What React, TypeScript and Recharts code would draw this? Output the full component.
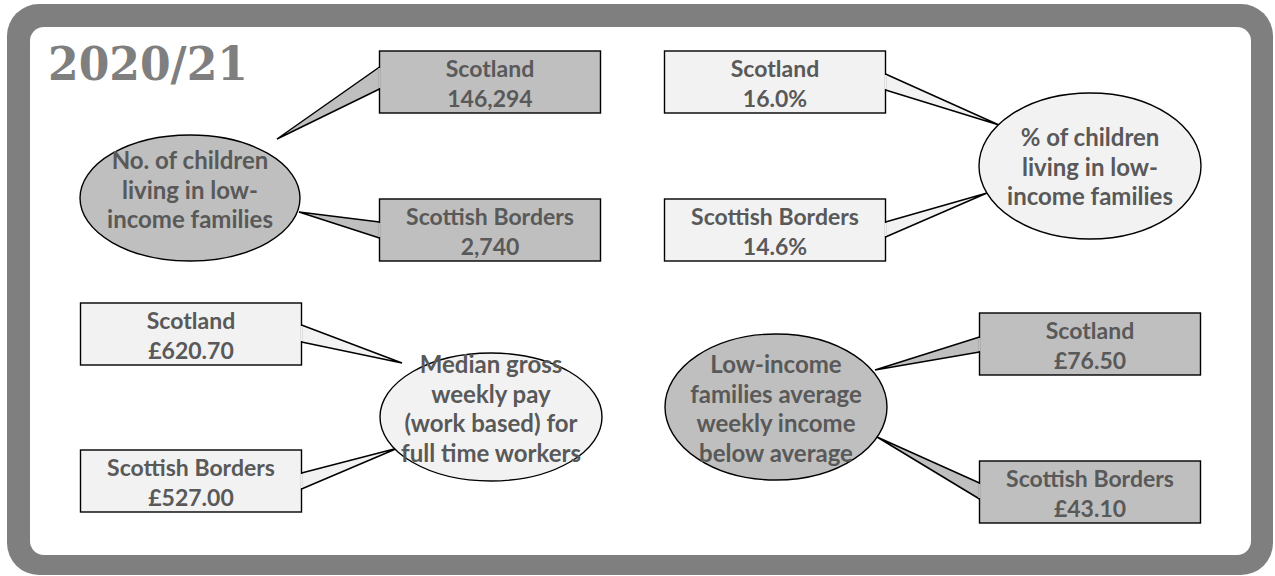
import React from "react";
import { ComposedChart, XAxis, YAxis, Scatter } from "recharts";

// ---- data ----
const period = "2020/21";
const regions = ["Scotland", "Scottish Borders"];
const measureLabels = [
  ["No. of children", "living in low-", "income families"],
  ["% of children", "living in low-", "income families"],
  ["Median gross", "weekly pay", "(work based) for", "full time workers"],
  ["Low-income", "families average", "weekly income", "below average"],
];
const scotlandValues = ["146,294", "16.0%", "£620.70", "£76.50"];
const bordersValues = ["2,740", "14.6%", "£527.00", "£43.10"];

// ---- layout (chart units = pixels, axes are hidden) ----
const W = 1275;
const H = 576;
const DARK = "#bfbfbf";
const LIGHT = "#f2f2f2";
const TEXT = "#595959";
const FONT = "Lato, 'Open Sans', sans-serif";
const BOX_W = 221;
const BOX_H = 62;

type BoxLayout = { x: number; y: number; side: "left" | "right"; base: [number, number]; tip: [number, number] };
type PanelLayout = { fill: string; ellipse: { x: number; y: number; rx: number; ry: number; ty: number }; boxes: BoxLayout[] };

const panels: PanelLayout[] = [
  {
    fill: DARK,
    ellipse: { x: 190, y: 198, rx: 110, ry: 63, ty: 189 },
    boxes: [
      { x: 490, y: 82, side: "left", base: [67, 89], tip: [277, 139] },
      { x: 490, y: 230, side: "left", base: [222, 238], tip: [299, 212] },
    ],
  },
  {
    fill: LIGHT,
    ellipse: { x: 1090, y: 166, rx: 111, ry: 73, ty: 166 },
    boxes: [
      { x: 775, y: 82, side: "right", base: [74, 90], tip: [999, 125] },
      { x: 775, y: 230, side: "right", base: [222, 237], tip: [987, 193] },
    ],
  },
  {
    fill: LIGHT,
    ellipse: { x: 491, y: 417, rx: 111, ry: 64, ty: 408 },
    boxes: [
      { x: 191, y: 334, side: "right", base: [325, 342], tip: [402, 363] },
      { x: 191, y: 481, side: "right", base: [473, 489], tip: [398, 448] },
    ],
  },
  {
    fill: DARK,
    ellipse: { x: 776, y: 407, rx: 111, ry: 73, ty: 408 },
    boxes: [
      { x: 1090, y: 344, side: "left", base: [337, 352], tip: [875, 370] },
      { x: 1090, y: 492, side: "left", base: [483, 499], tip: [877, 437] },
    ],
  },
];

const ellipseData = panels.map((p, i) => ({
  x: p.ellipse.x,
  y: p.ellipse.y,
  rx: p.ellipse.rx,
  ry: p.ellipse.ry,
  ty: p.ellipse.ty,
  fill: p.fill,
  lines: measureLabels[i],
}));

const boxData = panels.flatMap((p, i) =>
  p.boxes.map((b, j) => ({
    x: b.x,
    y: b.y,
    fill: p.fill,
    side: b.side,
    base: b.base,
    lines: [regions[j], j === 0 ? scotlandValues[i] : bordersValues[i]],
  }))
);

// each callout tail: box edge -> tip -> box edge, filled, open on the box side
const tails = panels.flatMap((p) =>
  p.boxes.map((b) => {
    const edge = b.side === "left" ? b.x - BOX_W / 2 : b.x + BOX_W / 2;
    return {
      fill: p.fill,
      outline: [
        { x: edge, y: b.base[0] },
        { x: b.tip[0], y: b.tip[1] },
        { x: edge, y: b.base[1] },
      ],
    };
  })
);

const NoDot = () => <g />;

const EllipseShape = (props: any) => {
  const { cx, cy, payload } = props;
  const n = payload.lines.length;
  const dy = payload.ty - payload.y;
  return (
    <g>
      <ellipse cx={cx} cy={cy} rx={payload.rx} ry={payload.ry} fill={payload.fill} stroke="#000" strokeWidth={1.4} />
      {payload.lines.map((t: string, k: number) => (
        <text
          key={k}
          x={cx}
          y={cy + dy + (k - (n - 1) / 2) * 29.5}
          textAnchor="middle"
          dominantBaseline="central"
          fontFamily={FONT}
          fontWeight={700}
          fontSize={24}
          fill={TEXT}
        >
          {t}
        </text>
      ))}
    </g>
  );
};

const BoxShape = (props: any) => {
  const { cx, cy, payload } = props;
  const x0 = cx - BOX_W / 2;
  const y0 = cy - BOX_H / 2;
  const ex = payload.side === "left" ? x0 : x0 + BOX_W;
  const off = payload.base[0] - payload.y;
  const off2 = payload.base[1] - payload.y;
  return (
    <g>
      <rect x={x0} y={y0} width={BOX_W} height={BOX_H} fill={payload.fill} stroke="#000" strokeWidth={1.4} />
      <line x1={ex} x2={ex} y1={cy + off + 1} y2={cy + off2 - 1} stroke={payload.fill} strokeWidth={2.2} />
      {payload.lines.map((t: string, k: number) => (
        <text
          key={k}
          x={cx}
          y={y0 + 17 + k * 29.5}
          textAnchor="middle"
          dominantBaseline="central"
          fontFamily={FONT}
          fontWeight={700}
          fontSize={23}
          fill={TEXT}
        >
          {t}
        </text>
      ))}
    </g>
  );
};

export default function App() {
  return (
    <div style={{ position: "fixed", left: 0, top: 0, width: W, height: H, background: "#fff" }}>
      <div style={{ position: "absolute", left: 7, top: 4, width: 1266, height: 571, background: "#7f7f7f", borderRadius: 32 }} />
      <div style={{ position: "absolute", left: 30, top: 27, width: 1221, height: 528, background: "#fff", borderRadius: 14 }} />
      <svg style={{ position: "absolute", left: 0, top: 0 }} width={300} height={100}>
        <text
          x={48}
          y={80}
          fontFamily="'DejaVu Serif', serif"
          fontWeight={700}
          fontSize={46}
          fill="#7f7f7f"
          textLength={200}
          lengthAdjust="spacingAndGlyphs"
        >
          {period}
        </text>
      </svg>
      <div style={{ position: "absolute", left: 0, top: 0 }}>
        <ComposedChart width={W} height={H} margin={{ top: 0, right: 0, bottom: 0, left: 0 }}>
          <XAxis type="number" dataKey="x" domain={[0, W]} hide allowDataOverflow />
          <YAxis type="number" domain={[0, H]} reversed hide allowDataOverflow />
          {tails.map((t, i) => (
            <Scatter
              key={`t${i}`}
              data={t.outline}
              dataKey="y"
              shape={NoDot}
              line={{ stroke: "#000", strokeWidth: 1.5, fill: t.fill }}
              lineJointType="linear"
              isAnimationActive={false}
            />
          ))}
          <Scatter data={boxData} dataKey="y" shape={BoxShape} isAnimationActive={false} />
          <Scatter data={ellipseData} dataKey="y" shape={EllipseShape} isAnimationActive={false} />
        </ComposedChart>
      </div>
    </div>
  );
}
